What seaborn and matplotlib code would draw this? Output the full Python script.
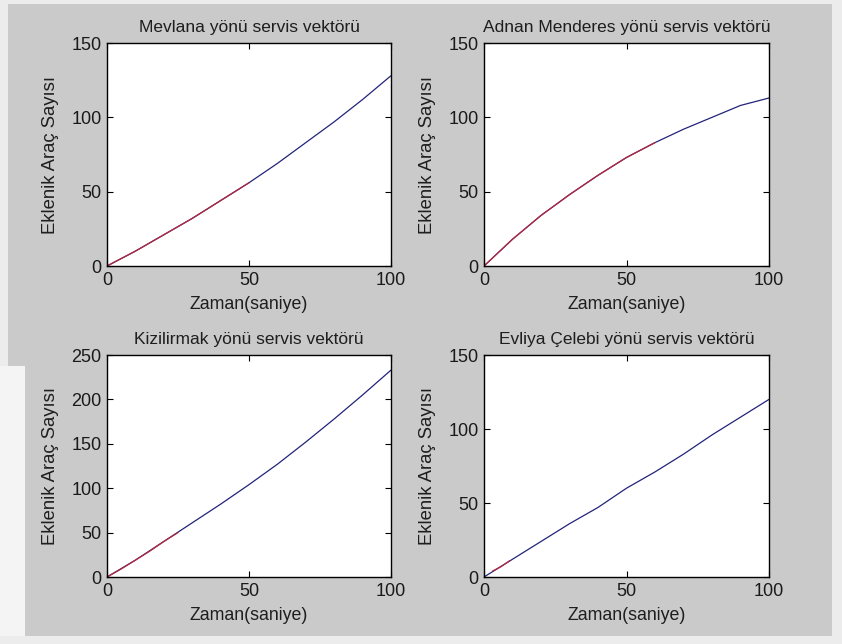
import numpy as np
import pandas as pd
import matplotlib
matplotlib.use("Agg")
import matplotlib.pyplot as plt
from matplotlib.patches import Rectangle
import seaborn as sns

# time axis (saniye)
t = [0, 10, 20, 30, 40, 50, 60, 70, 80, 90, 100]

# model curves (blue, full range)
mevlana = [0, 10, 21, 32, 44, 56, 69, 83, 97, 112, 128]
adnan = [0, 18, 34, 48, 61, 73, 83, 92, 100, 108, 113]
kizilirmak = [0, 19, 40, 61, 82, 104, 127, 152, 178, 205, 233]
evliya = [0, 12, 24, 36, 47, 60, 71, 83, 96, 108, 120]

# measured parts (red, shorter range)
mevlana_t = [0, 10, 20, 30, 40, 50]
mevlana_red = [0, 10, 21, 32, 44, 56]
adnan_t = [0, 10, 20, 30, 40, 50, 60]
adnan_red = [0, 18, 34, 48, 61, 73, 83]
kizilirmak_t = [0, 5, 10, 15, 20, 25]
kizilirmak_red = [0, 9, 19, 29, 40, 50]
evliya_t = [3, 6, 9]
evliya_red = [4, 7, 11]

titles = ["Mevlana yönü servis vektörü", "Adnan Menderes yönü servis vektörü",
          "Kizilirmak yönü servis vektörü", "Evliya Çelebi yönü servis vektörü"]
y_tops = [150, 150, 250, 150]
y_steps = [50, 50, 50, 50]

sns.set_style("white")
plt.rcParams['font.family'] = ['Liberation Sans', 'DejaVu Sans']
plt.rcParams['xtick.direction'] = 'in'
plt.rcParams['ytick.direction'] = 'in'

fig = plt.figure(figsize=(8.42, 6.44), dpi=100)
fig.patch.set_facecolor('#ececec')
W, H = 842, 644
# grey MATLAB figure window
fig.patches.append(Rectangle((8 / W, 8 / H), 824 / W, 632 / H, transform=fig.transFigure,
                             facecolor='#cacaca', edgecolor='none', zorder=-10))
fig.patches.append(Rectangle((0, 8 / H), 25 / W, 270 / H, transform=fig.transFigure,
                             facecolor='#f4f4f4', edgecolor='none', zorder=-9))

boxes = [(107, 43, 284, 223), (484, 43, 285, 223),
         (107, 355, 284, 222), (484, 355, 285, 222)]
blues = [mevlana, adnan, kizilirmak, evliya]
reds = [(mevlana_t, mevlana_red), (adnan_t, adnan_red),
        (kizilirmak_t, kizilirmak_red), (evliya_t, evliya_red)]

for i in range(4):
    x0, y0, w, h = boxes[i]
    ax = fig.add_axes([x0 / W, 1 - (y0 + h) / H, w / W, h / H])
    df = pd.DataFrame({'t': t, 'y': blues[i]})
    sns.lineplot(data=df, x='t', y='y', ax=ax, color='#23237a', linewidth=0.9)
    rt, ry = reds[i]
    sns.lineplot(x=rt, y=ry, ax=ax, color='#b8283c', linewidth=0.9)
    ax.set_xlim(0, 100)
    ax.set_ylim(0, y_tops[i])
    ax.set_xticks([0, 50, 100])
    ax.set_yticks(np.arange(0, y_tops[i] + 1, y_steps[i]))
    ax.tick_params(labelsize=13, length=4, width=0.8, pad=4,
                   top=True, right=True, bottom=True, left=True,
                   colors='black', labelcolor='#1a1a1a')
    ax.set_title(titles[i], fontsize=12.5, pad=8, color='#1e1e1e')
    ax.set_xlabel('Zaman(saniye)', fontsize=12.8, labelpad=5, color='#1e1e1e')
    ax.set_ylabel('Eklenik Araç Sayısı', fontsize=13.3, labelpad=9, color='#1e1e1e')
    for s in ax.spines.values():
        s.set_color('black')
        s.set_linewidth(1.0)
    ax.set_facecolor('white')

fig.savefig('out.png', dpi=100, facecolor=fig.get_facecolor())
